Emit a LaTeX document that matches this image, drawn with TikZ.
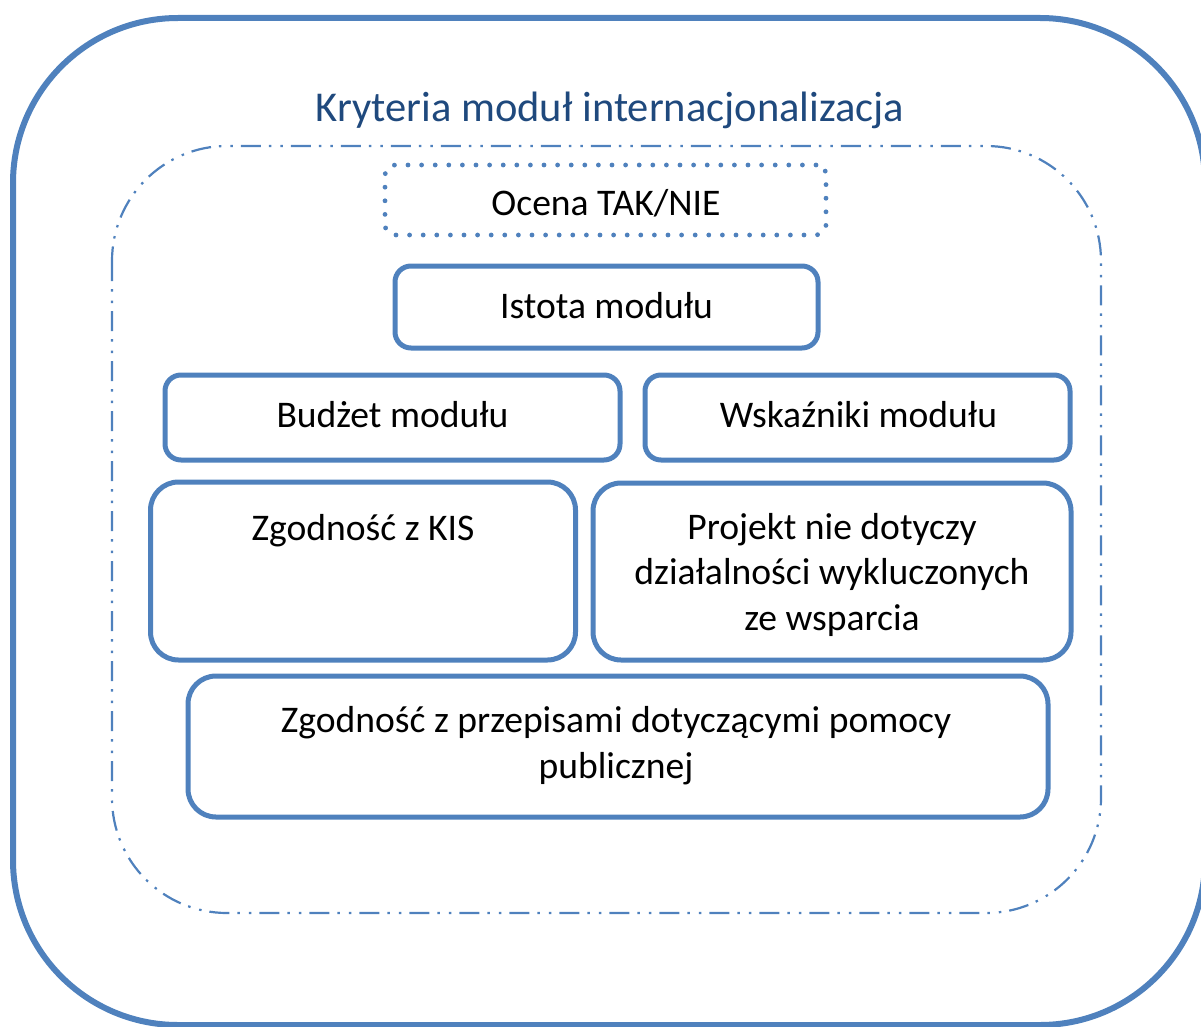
\documentclass[tikz,border=0pt]{standalone}
\usepackage{fontspec}
\setmainfont{Carlito}
\definecolor{lineblue}{HTML}{4F81BD}
\definecolor{titleblue}{HTML}{1F497D}
\tikzset{
  outerframe/.style={draw=lineblue, line width=6pt, rounded corners=165pt},
  innerframe/.style={draw=lineblue, line width=2.2pt, rounded corners=115pt,
    dash pattern=on 20pt off 8pt on 2.5pt off 9pt on 2.5pt off 8pt},
  dotbox/.style={draw=lineblue, line width=4.8pt, line cap=round, rounded corners=10pt,
    dash pattern=on 0pt off 13.6pt, inner sep=0pt},
  smallbox/.style={draw=lineblue, line width=5pt, rounded corners=16pt, inner sep=0pt},
  tallbox/.style={draw=lineblue, line width=5pt, rounded corners=28pt, inner sep=0pt},
  label/.style={font=\fontsize{37.6}{45.5}\selectfont, text=black, align=center, anchor=base, inner sep=0pt},
  titlelabel/.style={font=\fontsize{42.5}{50}\selectfont, text=titleblue, anchor=base, inner sep=0pt}
}
\begin{document}
\begin{tikzpicture}[x=1pt, y=-1pt]
\useasboundingbox (0,0) rectangle (1201,1027);
\draw[outerframe] (13,18) rectangle (1205,1025);
\draw[innerframe] (112,146) rectangle (1101,913);
\node[titlelabel] (title) at (610,122) {Kryteria moduł internacjonalizacja};

\node[dotbox, minimum width=441pt, minimum height=70pt] (ocena) at (605.5,200) {};
\node[label] (ocenat) at (606,215) {Ocena TAK/NIE};

\node[smallbox, minimum width=423pt, minimum height=82pt] (istota) at (606.5,307) {};
\node[label] (istotat) at (606.5,318) {Istota modułu};

\node[smallbox, minimum width=455pt, minimum height=85pt] (budzet) at (392.5,417.5) {};
\node[label] (budzett) at (392.5,427) {Budżet modułu};

\node[smallbox, minimum width=425pt, minimum height=85pt] (wsk) at (857.5,417.5) {};
\node[label] (wskt) at (858.5,427) {Wskaźniki modułu};

\node[tallbox, minimum width=425pt, minimum height=178pt] (kis) at (363,571) {};
\node[label] (kist) at (363,540) {Zgodność z KIS};

\node[tallbox, minimum width=478pt, minimum height=177pt] (projekt) at (832,571.5) {};
\node[label] (projektt) at (832,630) {Projekt nie dotyczy\\działalności wykluczonych\\ze wsparcia};

\node[tallbox, minimum width=860pt, minimum height=141pt] (publ) at (618,746.5) {};
\node[label] (publt) at (616,778) {Zgodność z przepisami dotyczącymi pomocy\\publicznej};
\end{tikzpicture}
\end{document}
